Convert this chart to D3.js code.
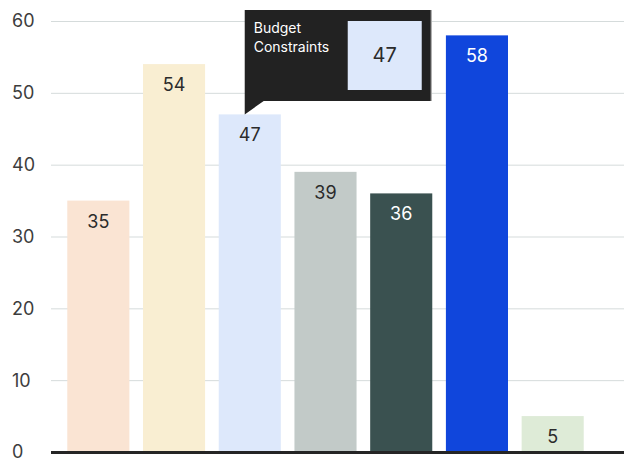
<!DOCTYPE html>
<html>
<head>
<meta charset="utf-8">
<script src="https://cdn.jsdelivr.net/npm/d3@7/dist/d3.min.js"></script>
<style>
  html, body { margin: 0; padding: 0; background: #fff; }
  svg { display: block; font-family: Inter, "Noto Sans", sans-serif; }
</style>
</head>
<body>
<svg id="chart" width="624" height="460"></svg>
<script>
// Category names, values and fill colours for each bar
const categories = ["Market Research", "Product Design", "Budget Constraints", "Team Capacity", "Supplier Delays", "Customer Demand", "Regulation"];
const values = [35, 54, 47, 39, 36, 58, 5];
const colors = ["#fae4d3", "#f9eed2", "#dde8fb", "#c2cac8", "#3a5150", "#1046dc", "#deebd7"];
const darkBars = ["#3a5150", "#1046dc"];
const yTicks = [0, 10, 20, 30, 40, 50, 60];
const highlighted = "Budget Constraints";

const svg = d3.select("#chart");

const x = d3.scaleBand()
  .domain(categories)
  .range([51, 600])
  .paddingInner(0.18)
  .paddingOuter(0.215);

const y = d3.scaleLinear()
  .domain([0, 60])
  .range([452, 21]);

// Horizontal gridlines
const yAxis = d3.axisLeft(y).tickValues(yTicks).tickSize(-(624 - 51)).tickFormat("");
svg.append("g")
  .attr("transform", "translate(51,0)")
  .call(yAxis)
  .call(g => g.select(".domain").remove())
  .call(g => g.selectAll(".tick line").attr("stroke", "#d5dbdb").attr("stroke-width", 1));

// Tick labels, left aligned
svg.append("g")
  .selectAll("text")
  .data(yTicks)
  .join("text")
  .attr("x", 12)
  .attr("y", d => y(d))
  .attr("dy", "0.36em")
  .attr("font-size", 18)
  .attr("fill", "#3d3d3d")
  .text(d => d);

// Bars
const data = categories.map((c, i) => ({ c, v: values[i], col: colors[i] }));
svg.append("g")
  .selectAll("rect")
  .data(data)
  .join("rect")
  .attr("x", d => x(d.c))
  .attr("y", d => y(d.v))
  .attr("width", x.bandwidth())
  .attr("height", d => y(0) - y(d.v))
  .attr("fill", d => d.col);

// Value labels inside bars
svg.append("g")
  .selectAll("text")
  .data(data)
  .join("text")
  .attr("x", d => x(d.c) + x.bandwidth() / 2)
  .attr("y", d => y(d.v) + 27)
  .attr("text-anchor", "middle")
  .attr("font-size", 18)
  .attr("fill", d => darkBars.includes(d.col) ? "#ffffff" : "#2b2b2b")
  .text(d => d.v);

// Baseline
svg.append("line")
  .attr("x1", 51).attr("x2", 624)
  .attr("y1", y(0) + 0.5).attr("y2", y(0) + 0.5)
  .attr("stroke", "#252525")
  .attr("stroke-width", 3);

// Tooltip for the highlighted bar
const hi = data.find(d => d.c === highlighted);
const tx = x(hi.c) + 26, tTop = 10, tW = 187, tH = 91;
const tip = svg.append("g");
tip.append("path")
  .attr("d", `M${tx},${tTop} h${tW} v${tH} H${tx + 19} L${tx},${y(hi.v)} Z`)
  .attr("fill", "#222222");
tip.append("line")
  .attr("x1", tx + tW - 0.5).attr("x2", tx + tW - 0.5)
  .attr("y1", tTop).attr("y2", tTop + tH)
  .attr("stroke", "#d0d0d0").attr("stroke-width", 1);
const label = tip.append("text")
  .attr("x", tx + 9)
  .attr("font-size", 14)
  .attr("fill", "#ffffff");
label.append("tspan").attr("x", tx + 9).attr("y", 33).text("Budget");
label.append("tspan").attr("x", tx + 9).attr("y", 52).text("Constraints");
tip.append("rect")
  .attr("x", tx + 103).attr("y", 21)
  .attr("width", 74).attr("height", 69)
  .attr("fill", hi.col);
tip.append("text")
  .attr("x", tx + 140).attr("y", 62)
  .attr("text-anchor", "middle")
  .attr("font-size", 20)
  .attr("fill", "#2b2b2b")
  .text(hi.v);
</script>
</body>
</html>
